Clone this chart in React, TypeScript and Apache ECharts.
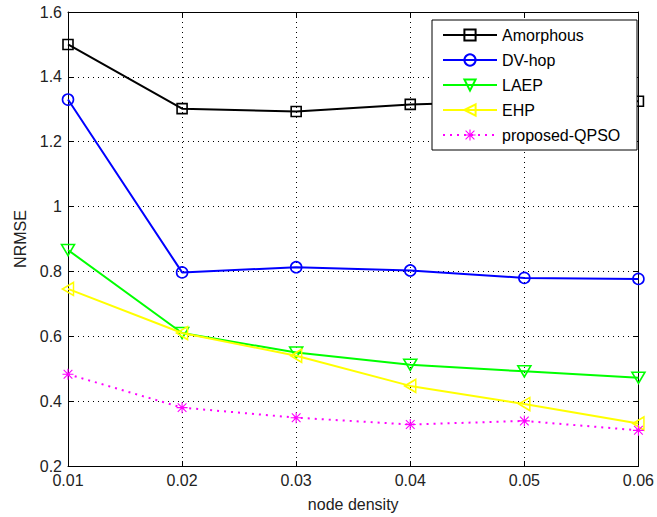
import React, { useEffect, useRef } from "react";
import * as echarts from "echarts";

const xValues = [0.01, 0.02, 0.03, 0.04, 0.05, 0.06];
const amorphous = [1.5, 1.302, 1.293, 1.315, 1.325, 1.325];
const dvHop = [1.33, 0.797, 0.813, 0.803, 0.78, 0.777];
const laep = [0.866, 0.61, 0.55, 0.512, 0.492, 0.472];
const ehp = [0.746, 0.61, 0.54, 0.447, 0.391, 0.331];
const qpso = [0.483, 0.38, 0.349, 0.328, 0.339, 0.31];

const seriesNames = ["Amorphous", "DV-hop", "LAEP", "EHP", "proposed-QPSO"];

const asterisk =
  "path://M9 0H11V20H9Z M0 9H20V11H0Z M1.4 2.8L2.8 1.4L18.6 17.2L17.2 18.6Z M17.2 1.4L18.6 2.8L2.8 18.6L1.4 17.2Z";

const FONT = "Liberation Sans, Arial, sans-serif";

export default function App() {
  const ref = useRef<HTMLDivElement>(null);
  useEffect(() => {
    if (!ref.current) return;
    const chart = echarts.init(ref.current, undefined, { renderer: "svg" });
    const pair = (ys: number[]) => xValues.map((x, i) => [x, ys[i]]);
    const hollow = (color: string) => ({
      color: "rgba(255,255,255,0)",
      borderColor: color,
      borderWidth: 1.6,
    });
    const axisCommon = {
      axisLine: { show: true, onZero: false, lineStyle: { color: "#000", width: 1 } },
      axisTick: { show: true, inside: true, length: 5, lineStyle: { color: "#000" } },
    };
    chart.setOption({
      animation: false,
      backgroundColor: "#fff",
      grid: { left: 68, right: 15, top: 12, bottom: 51, containLabel: false },
      legend: {
        orient: "vertical",
        left: 432,
        top: 20,
        data: seriesNames,
        backgroundColor: "#fff",
        borderColor: "#000",
        borderWidth: 1,
        borderRadius: 0,
        padding: [7, 10, 7, 10],
        itemWidth: 54,
        itemHeight: 14,
        itemGap: 9,
        textStyle: { fontFamily: FONT, fontSize: 16, color: "#000", lineHeight: 16, width: 125 },
      },
      xAxis: [
        {
          type: "value",
          min: 0.01,
          max: 0.06,
          interval: 0.01,
          ...axisCommon,
          axisLabel: {
            fontFamily: FONT,
            fontSize: 16,
            color: "#222",
            margin: 6,
            formatter: (v: number) => v.toFixed(2),
          },
          splitLine: { show: true, lineStyle: { color: "#000", type: [1, 4], width: 1 } },
          name: "node density",
          nameLocation: "middle",
          nameGap: 30,
          nameTextStyle: { fontFamily: FONT, fontSize: 16, color: "#222", verticalAlign: "top" },
        },
        {
          type: "value",
          position: "top",
          min: 0.01,
          max: 0.06,
          interval: 0.01,
          ...axisCommon,
          axisLabel: { show: false },
          splitLine: { show: false },
        },
      ],
      yAxis: [
        {
          type: "value",
          min: 0.2,
          max: 1.6,
          interval: 0.2,
          ...axisCommon,
          axisLabel: {
            fontFamily: FONT,
            fontSize: 16,
            color: "#222",
            margin: 6,
            formatter: (v: number) => String(+v.toFixed(1)),
          },
          splitLine: { show: true, lineStyle: { color: "#000", type: [1, 4], width: 1 } },
          name: "NRMSE",
          nameLocation: "middle",
          nameGap: 38,
          nameTextStyle: { fontFamily: FONT, fontSize: 16, color: "#222" },
        },
        {
          type: "value",
          position: "right",
          min: 0.2,
          max: 1.6,
          interval: 0.2,
          ...axisCommon,
          axisLabel: { show: false },
          splitLine: { show: false },
        },
      ],
      series: [
        {
          name: "Amorphous",
          type: "line",
          data: pair(amorphous),
          symbol: "rect",
          symbolSize: 10,
          lineStyle: { color: "#000", width: 2 },
          itemStyle: hollow("#000"),
          z: 2,
        },
        {
          name: "DV-hop",
          type: "line",
          data: pair(dvHop),
          symbol: "circle",
          symbolSize: 11,
          lineStyle: { color: "#0000ff", width: 2 },
          itemStyle: hollow("#0000ff"),
          z: 3,
        },
        {
          name: "LAEP",
          type: "line",
          data: pair(laep),
          symbol: "triangle",
          symbolRotate: 180,
          symbolSize: [13, 11],
          lineStyle: { color: "#00ff00", width: 2 },
          itemStyle: hollow("#00ff00"),
          z: 4,
        },
        {
          name: "EHP",
          type: "line",
          data: pair(ehp),
          symbol: "triangle",
          symbolRotate: 90,
          symbolSize: [13, 11],
          lineStyle: { color: "#ffff00", width: 2 },
          itemStyle: hollow("#ffff00"),
          z: 5,
        },
        {
          name: "proposed-QPSO",
          type: "line",
          data: pair(qpso),
          symbol: asterisk,
          symbolSize: 11,
          lineStyle: { color: "#ff00ff", width: 2, type: [2, 5] },
          itemStyle: { color: "#ff00ff" },
          z: 6,
        },
      ],
    });
    return () => chart.dispose();
  }, []);
  return <div ref={ref} style={{ width: 657, height: 517, position: "absolute", left: 0, top: 0 }} />;
}
